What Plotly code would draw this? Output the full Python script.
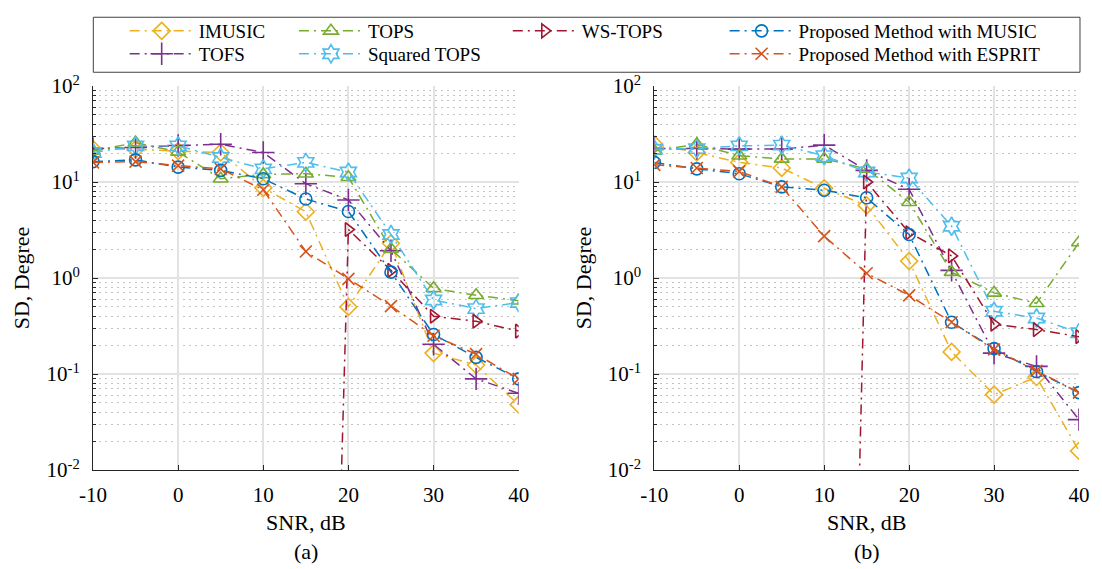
import plotly.graph_objects as go

# ---------------- data ----------------
snr = [-10, -5, 0, 5, 10, 15, 20, 25, 30, 35, 40]

series_names = ["IMUSIC", "TOFS", "TOPS", "Squared TOPS", "WS-TOPS",
                "Proposed Method with MUSIC", "Proposed Method with ESPRIT"]

# panel (a)
a_imusic = [22, 22, 21, 20.3, 8.7, 4.9, 0.5, 2.3, 0.165, 0.124, 0.048]
a_tofs = [22.3, 22.9, 24, 24.7, 20.3, 9.6, 6.5, 1.92, 0.204, 0.089, 0.063]
a_tops = [21, 25.7, 20.6, 10.8, 12, 12.2, 11.2, 2.0, 0.78, 0.66, 0.58]
a_sqtops = [20.3, 23.8, 23.8, 18, 13.7, 16, 12.7, 2.84, 0.59, 0.48, 0.555]
a_wstops = [None, None, None, None, None, 1e-15, 3.2, 1.2, 0.40, 0.354, 0.28]
a_music = [16.3, 17, 14.3, 13.2, 10.8, 6.65, 4.93, 1.15, 0.258, 0.149, 0.089]
a_esprit = [16, 16.3, 14.8, 13.7, 8.3, 1.89, 0.98, 0.51, 0.25, 0.161, 0.089]

# panel (b)
b_imusic = [24.7, 20.3, 16, 14, 8.6, 5.7, 1.5, 0.17, 0.061, 0.093, 0.0158]
b_tofs = [22.3, 22.3, 22, 22, 24.2, 13.2, 8.4, 1.2, 0.165, 0.12, 0.0335]
b_tops = [21, 24.7, 18.8, 17.4, 17.4, 13.7, 6.15, 1.15, 0.70, 0.545, 2.34]
b_sqtops = [22, 22.3, 23.8, 24.2, 18.8, 12.7, 11, 3.46, 0.45, 0.383, 0.269]
b_wstops = [None, None, None, None, 1e-17, 10, 2.96, 1.7, 0.33, 0.29, 0.245]
b_music = [16, 13.7, 12.2, 8.9, 8.2, 6.85, 2.84, 0.346, 0.184, 0.106, 0.064]
b_esprit = [15.1, 14, 12.9, 8.9, 2.73, 1.12, 0.66, 0.346, 0.18, 0.108, 0.064]

y_tickvals = [0.01, 0.1, 1, 10, 100]
y_ticktext = ["10<sup>-2</sup>", "10<sup>-1</sup>", "10<sup>0</sup>",
              "10<sup>1</sup>", "10<sup>2</sup>"]
x_tickvals = [-10, 0, 10, 20, 30, 40]
x_ticktext = ["-10", "0", "10", "20", "30", "40"]

# ---------------- styles ----------------
colors = ["#EDB120", "#7E2F8E", "#77AC30", "#4DBEEE", "#A2142F", "#0072BD", "#D95319"]
symbols = ["diamond-open", "cross-thin-open", "triangle-up-open", "hexagram-open",
           "triangle-right-open", "circle-open", "x-thin-open"]
msizes = [13, 16, 13, 14, 12, 12, 12]
legend_ids = ["legend", "legend2", "legend3", "legend4", "legend5", "legend6", "legend7"]
# legend placement (pixel) : (line start x, row center y)
legend_px = [(129, 25), (129, 48.3), (300, 25), (300, 48.3), (516, 25), (735, 25), (735, 48.3)]

DASH = "10px,5px,2px,5px"
FONT = "Liberation Serif, Times New Roman, serif"
W, H = 1102, 569
ML, MR, MT, MB = 93, 13, 79, 99
PW, PH = W - ML - MR, H - MT - MB


def px2paper(px, py):
    return (px - ML) / PW, (H - MB - py) / PH


fig = go.Figure()

panels = [
    ("x", "y", [a_imusic, a_tofs, a_tops, a_sqtops, a_wstops, a_music, a_esprit], True),
    ("x2", "y2", [b_imusic, b_tofs, b_tops, b_sqtops, b_wstops, b_music, b_esprit], False),
]
for xa, ya, data, show in panels:
    for i, vals in enumerate(data):
        fig.add_trace(go.Scatter(
            x=snr, y=vals, xaxis=xa, yaxis=ya, name=series_names[i],
            mode="lines+markers", showlegend=show, legend=legend_ids[i],
            line=dict(color=colors[i], width=1.5, dash=DASH),
            marker=dict(symbol=symbols[i], size=msizes[i], color=colors[i],
                        line=dict(color=colors[i], width=1.6)),
        ))

axis_font = dict(family=FONT, size=21, color="black")
dom_a = [0, (523 - ML) / PW]
dom_b = [(660 - ML) / PW, 1]

common_x = dict(
    range=[-10, 40], tickmode="array", tickvals=x_tickvals, ticktext=x_ticktext,
    ticks="inside", ticklen=5, tickcolor="#262626",
    showline=True, linecolor="#262626", linewidth=1, mirror=False,
    showgrid=True, gridcolor="#e2e2e2", gridwidth=1.5, zeroline=False,
    tickfont=axis_font, ticklabelstandoff=6,
    title=dict(text="SNR, dB", font=dict(family=FONT, size=22, color="black"), standoff=8),
)
common_y = dict(
    type="log", range=[-2, 2], tickmode="array", tickvals=y_tickvals, ticktext=y_ticktext,
    ticks="inside", ticklen=5, tickcolor="#262626",
    showline=True, linecolor="#262626", linewidth=1, mirror=False,
    showgrid=True, gridcolor="#e2e2e2", gridwidth=1.5, zeroline=False,
    tickfont=axis_font, ticklabelstandoff=8,
    minor=dict(dtick="D1", ticks="inside", ticklen=3, tickcolor="#262626",
               showgrid=True, gridcolor="#c4c4c4", griddash="2px,4px", gridwidth=1),
    title=dict(text="SD, Degree", font=dict(family=FONT, size=22, color="black"), standoff=10),
)

layout = dict(
    width=W, height=H, margin=dict(l=ML, r=MR, t=MT, b=MB),
    plot_bgcolor="white", paper_bgcolor="white",
    font=dict(family=FONT, color="black"),
    xaxis=dict(domain=dom_a, anchor="y", **common_x),
    yaxis=dict(domain=[0, 1], anchor="x", **common_y),
    xaxis2=dict(domain=dom_b, anchor="y2", **common_x),
    yaxis2=dict(domain=[0, 1], anchor="x2", **common_y),
)

for lid, (lx, ly) in zip(legend_ids, legend_px):
    px_, py_ = px2paper(lx - 4, ly - 2)
    layout[lid] = dict(x=px_, y=py_, xanchor="left", yanchor="middle",
                       bgcolor="rgba(0,0,0,0)", borderwidth=0, itemwidth=64,
                       font=dict(family=FONT, size=19, color="black"))

fig.update_layout(**layout)

bx0, by0 = px2paper(93.3, 9)
bx1, by1 = px2paper(1090, 65)
fig.add_shape(type="rect", xref="paper", yref="paper", x0=bx0, x1=bx1, y0=by1, y1=by0,
              line=dict(color="#404040", width=1), fillcolor="rgba(0,0,0,0)", layer="above")

for label, cx in (("(a)", (93 + 523) / 2), ("(b)", (660 + 1089) / 2)):
    ax_, ay_ = px2paper(cx, 553)
    fig.add_annotation(text=label, xref="paper", yref="paper", x=ax_, y=ay_,
                       xanchor="center", yanchor="middle", showarrow=False,
                       font=dict(family=FONT, size=22, color="black"))

fig.write_html("out.html", config={"displayModeBar": False},
               post_script="document.body.style.margin='0px';document.body.style.overflow='hidden';")
